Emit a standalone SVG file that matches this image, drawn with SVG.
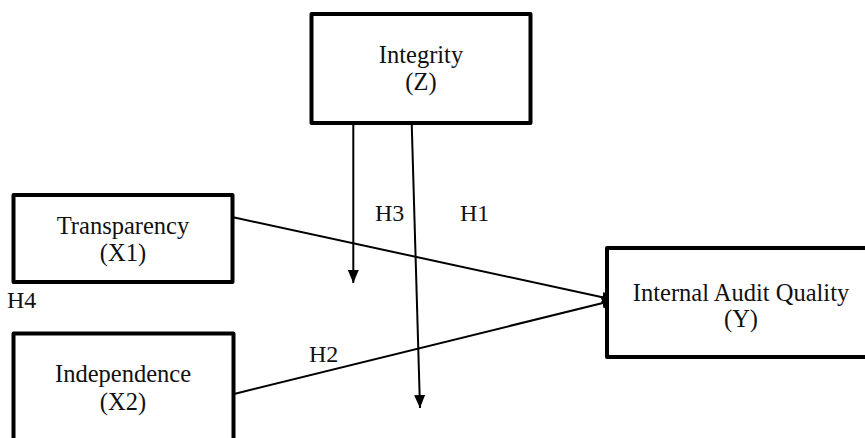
<svg xmlns="http://www.w3.org/2000/svg" width="865" height="438" viewBox="0 0 865 438">
<defs>
<style>
.box{fill:#fff;stroke:#000;stroke-width:4;stroke-linejoin:round}
.t{font-family:"Liberation Serif","Times New Roman","DejaVu Serif",serif;font-size:24.5px;fill:#111;text-anchor:middle}
.lbl{font-family:"Liberation Serif","Times New Roman","DejaVu Serif",serif;font-size:24px;fill:#111}
.ln{fill:none;stroke:#000;stroke-width:2}
</style>
<marker id="ah" markerUnits="userSpaceOnUse" markerWidth="13" markerHeight="12" refX="13" refY="5.5" orient="auto">
<path d="M0,0 L13,5.5 L0,11 z" fill="#000"/>
</marker>
</defs>
<rect width="865" height="438" fill="#fff"/>
<g id="connectors">
<path class="ln" d="M353.3,123 V283" marker-end="url(#ah)"/>
<path class="ln" d="M411.7,123 L420,408" marker-end="url(#ah)"/>
<path class="ln" d="M232,217 L615,300" marker-end="url(#ah)"/>
<path class="ln" d="M234,394 L615,300" marker-end="url(#ah)"/>
</g>
<g id="integrity">
<rect class="box" x="311.5" y="14" width="219" height="109"/>
<text class="t" x="421" y="63">Integrity</text>
<text class="t" x="421" y="90">(Z)</text>
</g>
<g id="transparency">
<rect class="box" x="13.5" y="195" width="219" height="87"/>
<text class="t" x="123" y="234">Transparency</text>
<text class="t" x="123" y="261">(X1)</text>
</g>
<g id="independence">
<rect class="box" x="13.5" y="333.5" width="220" height="110"/>
<text class="t" x="123" y="382">Independence</text>
<text class="t" x="123" y="410">(X2)</text>
</g>
<g id="iaq">
<rect class="box" x="607" y="248" width="268" height="109"/>
<text class="t" x="741" y="301">Internal Audit Quality</text>
<text class="t" x="741" y="327">(Y)</text>
</g>
<g id="labels">
<text class="lbl" x="375" y="221">H3</text>
<text class="lbl" x="460" y="221">H1</text>
<text class="lbl" x="7" y="308">H4</text>
<text class="lbl" x="309" y="362">H2</text>
</g>
</svg>
